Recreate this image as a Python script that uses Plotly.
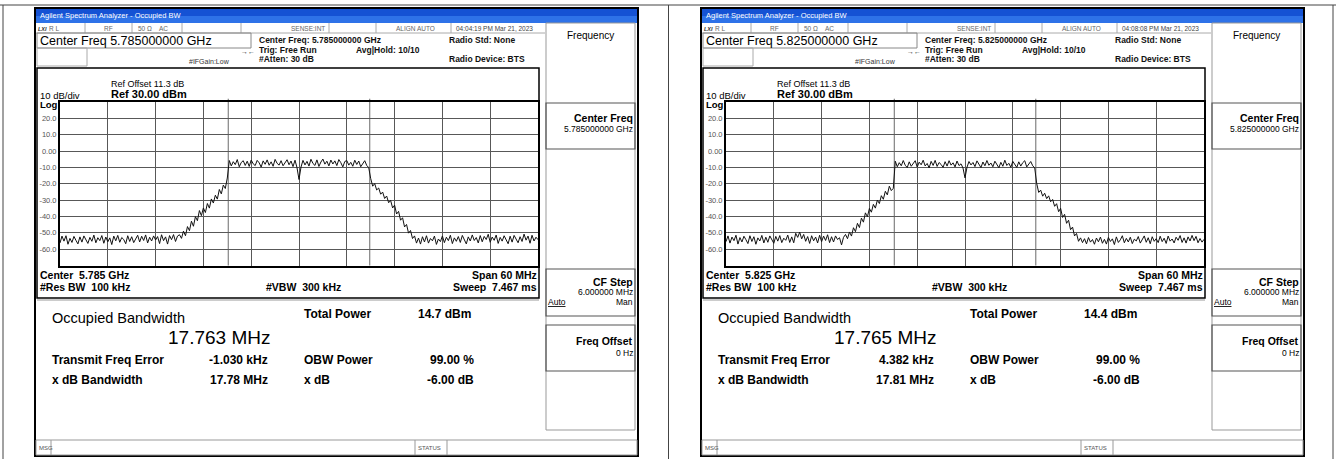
import numpy as np
import plotly.graph_objects as go

W, H = 1336, 459
FONT = "Liberation Sans, Arial, sans-serif"

# ------------------------------------------------------------------ data
span_mhz = 60.0
n_points = 241
centers_mhz = [5785.0, 5825.0]
obw_mhz = [17.763, 17.765]
freq_err_khz = [-1.030, 4.382]
ref_level_dbm = 30.0
db_per_div = 10.0
ytick_vals = [20, 10, 0, -10, -20, -30, -40, -50, -60]
ytick_text = ["20.0", "10.0", "0.00", "-10.0", "-20.0", "-30.0", "-40.0", "-50.0", "-60.0"]

# left screenshot (5.785 GHz) trace, dBm
left_floor_lo = [-56.2, -52.0, -55.1, -51.8, -57.0, -53.4, -55.9, -52.2, -54.6, -56.8,
                 -52.5, -55.7, -51.9, -54.3, -56.5, -52.8, -55.2, -51.4, -56.1, -53.0,
                 -54.8, -51.7, -56.4, -52.6, -55.5, -53.1, -57.2, -52.0, -54.9, -51.6,
                 -55.8, -52.9, -54.1, -56.7, -51.8, -55.3, -52.4, -56.0, -53.2, -51.5,
                 -55.6, -52.1, -54.7, -51.3, -56.2, -52.7, -55.0, -51.9, -54.4, -52.3,
                 -56.6, -51.2, -54.8, -52.5, -56.9, -51.7, -54.2, -51.1, -55.3, -52.0]
left_rise = [-51.2, -53.4, -49.0, -51.8, -46.2, -48.7, -42.9, -46.0, -40.1, -42.6,
             -36.4, -39.5, -34.8, -37.6, -32.1, -34.9, -29.3, -31.8, -27.0, -29.4,
             -23.5, -26.2, -20.8, -22.9, -16.5]
left_plateau = [-5.8, -9.1, -6.5, -8.3, -5.2, -9.6, -7.0, -5.9, -8.8, -6.2,
                -9.4, -5.5, -7.8, -8.9, -5.7, -7.2, -9.8, -6.0, -8.1, -5.4,
                -8.7, -6.6, -9.3, -5.1, -7.5, -8.6, -5.9, -9.0, -6.8, -5.3,
                -8.4, -6.1, -9.5, -5.6, -10.2, -17.4, -9.8, -5.7, -8.5, -6.3,
                -9.2, -5.0, -7.6, -8.8, -5.4, -9.4, -6.7, -4.9, -8.0, -6.2,
                -9.1, -5.5, -7.9, -6.0, -8.9, -5.2, -7.1, -9.7, -6.4, -5.8,
                -8.6, -6.9, -9.3, -5.6, -8.2, -6.1, -9.6, -7.3, -5.9, -8.8, -10.1]
left_fall = [-16.8, -21.5, -19.9, -23.8, -22.6, -26.4, -25.1, -29.0, -27.5, -31.6,
             -30.2, -34.8, -33.1, -38.5, -36.9, -42.3, -40.8, -46.4, -44.9, -50.2,
             -48.6, -53.5, -51.9, -56.3]
left_floor_hi = [-53.2, -56.9, -52.4, -55.6, -51.8, -56.3, -53.5, -54.9, -52.0, -57.1,
                 -53.8, -55.4, -51.9, -56.0, -52.7, -54.8, -51.5, -56.6, -53.1, -55.2,
                 -52.3, -55.9, -51.6, -54.4, -56.8, -52.5, -55.0, -51.3, -54.7, -52.9,
                 -56.2, -51.7, -55.5, -52.2, -54.1, -50.9, -55.8, -52.6, -54.6, -51.4,
                 -56.5, -52.8, -55.1, -51.8, -54.3, -56.7, -52.1, -55.7, -51.6, -53.9,
                 -56.1, -52.4, -55.3, -50.8, -54.5, -52.0, -56.4, -51.5, -55.0, -52.7,
                 -54.2]

# right screenshot (5.825 GHz) trace, dBm
right_floor_lo = [-55.4, -51.9, -56.3, -52.6, -54.8, -51.5, -56.9, -52.9, -55.6, -52.1,
                  -54.2, -56.6, -51.8, -55.3, -52.4, -57.0, -53.1, -55.0, -51.6, -56.2,
                  -52.7, -55.8, -51.9, -54.5, -56.4, -52.2, -55.1, -51.7, -56.0, -53.3,
                  -54.6, -51.4, -55.9, -52.5, -56.1, -50.3, -52.8, -49.6, -53.7, -51.0,
                  -55.2, -52.3, -56.5, -51.8, -54.9, -52.6, -56.2, -51.5, -55.4, -52.0,
                  -54.7, -51.2, -56.0, -52.4, -55.6, -51.9, -54.1, -53.0, -57.4, -52.8]
right_rise = [-51.0, -53.6, -49.5, -52.0, -46.9, -49.3, -44.2, -46.8, -41.0, -43.5,
              -37.8, -40.2, -35.1, -37.4, -32.6, -34.9, -30.0, -32.1, -27.3, -29.5,
              -24.6, -26.8, -21.5, -24.2, -22.8]
right_plateau = [-6.2, -9.6, -7.1, -9.0, -5.8, -8.7, -10.1, -6.6, -9.3, -7.4,
                 -5.9, -9.8, -6.8, -8.4, -5.6, -9.1, -7.6, -10.3, -6.3, -8.8,
                 -5.7, -9.4, -7.0, -8.2, -10.0, -6.5, -9.2, -5.9, -8.6, -7.2,
                 -9.7, -6.1, -8.9, -7.8, -10.4, -16.4, -9.9, -6.4, -8.5, -7.0,
                 -9.5, -6.0, -8.3, -10.1, -6.7, -9.0, -5.8, -8.7, -7.3, -9.6,
                 -6.2, -8.1, -10.2, -6.9, -9.3, -5.6, -8.8, -7.5, -9.9, -6.3,
                 -8.4, -10.0, -6.6, -9.2, -7.1, -5.9, -9.7, -7.8, -6.4, -9.0, -10.3]
right_fall = [-19.8, -25.3, -23.9, -27.6, -25.8, -29.1, -27.4, -31.0, -29.6, -33.8,
              -32.2, -37.1, -35.0, -40.6, -38.7, -44.2, -42.3, -48.1, -46.5, -51.9,
              -50.4, -55.2, -53.1, -56.0]
right_floor_hi = [-53.6, -56.8, -52.9, -55.7, -54.1, -57.0, -53.2, -55.5, -52.6, -56.4,
                  -54.0, -56.9, -52.8, -55.3, -53.7, -57.2, -52.5, -55.9, -54.3, -51.8,
                  -56.1, -53.4, -55.6, -52.7, -56.6, -53.9, -55.0, -52.3, -56.3, -54.2,
                  -51.9, -55.8, -53.0, -56.7, -52.4, -55.2, -53.6, -56.0, -52.1, -55.4,
                  -53.3, -56.5, -52.0, -55.1, -53.8, -56.2, -52.7, -54.6, -51.7, -55.9,
                  -53.1, -56.3, -52.5, -55.0, -51.6, -54.8, -52.2, -56.1, -53.5, -55.7,
                  -54.0]

traces_dbm = [left_floor_lo + left_rise + left_plateau + left_fall + left_floor_hi,
              right_floor_lo + right_rise + right_plateau + right_fall + right_floor_hi]

# texts that differ between the two screenshots
cf_big = ["Center Freq 5.785000000 GHz", "Center Freq 5.825000000 GHz"]
cf_small = ["Center Freq: 5.785000000 GHz", "Center Freq: 5.825000000 GHz"]
timestamps = ["04:04:19 PM Mar 21, 2023", "04:08:08 PM Mar 21, 2023"]
cf_soft = ["5.785000000 GHz", "5.825000000 GHz"]
center_lbl = ["Center&nbsp; 5.785 GHz", "Center&nbsp; 5.825 GHz"]
total_power = ["14.7 dBm", "14.4 dBm"]
obw_text = ["17.763 MHz", "17.765 MHz"]
ferr_text = ["-1.030 kHz", "4.382 kHz"]
xdb_bw_text = ["17.78 MHz", "17.81 MHz"]

# ------------------------------------------------------------------ helpers
def X(px):
    return px / W


def Y(py):
    return 1 - py / H


annotations = []
shapes = []


def txt(x, y, s, size=9, bold=False, color="#000", anchor="left", family=FONT):
    annotations.append(dict(
        x=X(x), y=Y(y), xref="paper", yref="paper",
        text=f"<b>{s}</b>" if bold else s, showarrow=False,
        xanchor=anchor, yanchor="middle", borderpad=0,
        font=dict(size=size, color=color, family=family)))


def rect(x0, y0, x1, y1, line="#000", width=1.0, fill=None, layer="above"):
    shapes.append(dict(
        type="rect", xref="paper", yref="paper",
        x0=X(x0), x1=X(x1), y0=Y(y1), y1=Y(y0),
        line=dict(color=line, width=width),
        fillcolor=fill if fill else "rgba(0,0,0,0)", layer=layer))


def seg(x0, y0, x1, y1, color="#000", width=1.0):
    shapes.append(dict(
        type="line", xref="paper", yref="paper",
        x0=X(x0), x1=X(x1), y0=Y(y0), y1=Y(y1),
        line=dict(color=color, width=width)))


# ------------------------------------------------------------------ figure
fig = go.Figure()

# outer document frame
seg(0, 5, W, 5, "#444", 1)
seg(3, 5, 3, H, "#444", 1)
seg(668.5, 5, 668.5, H, "#444", 1)
seg(1333, 5, 1333, H, "#444", 1)

PX_L, PX_R = 60, 538       # plot area (left panel)
PY_T, PY_B = 102, 265.5

for k in range(2):
    dx = 666 * k
    c = centers_mhz[k]
    xa = "xaxis" if k == 0 else "xaxis2"
    ya = "yaxis" if k == 0 else "yaxis2"
    xr = "x" if k == 0 else "x2"
    yr = "y" if k == 0 else "y2"

    freq = c + np.linspace(-span_mhz / 2, span_mhz / 2, n_points)
    fig.add_trace(go.Scatter(x=freq, y=traces_dbm[k], mode="lines",
                             line=dict(color="#111", width=1),
                             xaxis=xr, yaxis=yr, hoverinfo="skip"))

    xt = [c - span_mhz / 2 + i * span_mhz / 10 for i in range(1, 10)]
    fig.update_layout({
        xa: dict(domain=[X(PX_L + dx), X(PX_R + dx)], range=[c - span_mhz / 2, c + span_mhz / 2],
                 tickvals=xt, showticklabels=False, showgrid=True, gridcolor="#585858",
                 gridwidth=1, showline=True, linecolor="#000", linewidth=2, mirror=True,
                 zeroline=False, ticks="", anchor=yr, fixedrange=True),
        ya: dict(domain=[Y(PY_B), Y(PY_T)],
                 range=[ref_level_dbm - 10 * db_per_div, ref_level_dbm],
                 tickvals=ytick_vals, ticktext=ytick_text,
                 tickfont=dict(size=7.5, color="#555", family=FONT),
                 showgrid=True, gridcolor="#585858", gridwidth=1, showline=True,
                 linecolor="#000", linewidth=2, mirror=True, zeroline=False, ticks="",
                 anchor=xr, fixedrange=True),
    })

    # OBW edge markers
    fc = c + freq_err_khz[k] / 1000.0
    for edge in (fc - obw_mhz[k] / 2, fc + obw_mhz[k] / 2):
        shapes.append(dict(type="line", xref=xr, yref=f"{yr} domain", x0=edge, x1=edge,
                           y0=0, y1=1.02, line=dict(color="#6a6a6a", width=1), layer="below"))

    # window frame + title bar
    rect(35 + dx, 8, 638 + dx, 456, "#000", 2)
    rect(36 + dx, 9, 637 + dx, 16, "#1552d4", 0, fill="#1552d4")
    rect(36 + dx, 16, 637 + dx, 23, "#2e72e8", 0, fill="#2e72e8")
    txt(39 + dx, 15.5, "Agilent Spectrum Analyzer - Occupied BW", 7.5, color="#fff")

    # status row
    seg(36 + dx, 33, 545 + dx, 33, "#aaa", 1)
    for sx in (85, 132, 182, 241, 329, 376, 451):
        seg(sx + dx, 23, sx + dx, 33, "#aaa", 1)
    txt(37 + dx, 28.5, "<i>LXI</i>", 5.5, True, "#333")
    txt(48 + dx, 28.5, "R L", 6.5, color="#666")
    txt(103 + dx, 28.5, "RF", 6.5, color="#666")
    txt(137 + dx, 28.5, "50 Ω", 6.5, color="#666")
    txt(158 + dx, 28.5, "AC", 6.5, color="#666")
    txt(290 + dx, 28.5, "SENSE:INT", 6.5, color="#666")
    txt(395 + dx, 28.5, "ALIGN AUTO", 6.5, color="#666")
    txt(455 + dx, 28.5, timestamps[k], 6.5, color="#444")

    # header block
    rect(37 + dx, 33, 251 + dx, 48, "#888", 1)
    rect(37 + dx, 48, 87 + dx, 66, "#aaa", 1)
    txt(39 + dx, 41, cf_big[k], 12.5)
    txt(188 + dx, 61, "#IFGain:Low", 7, color="#333")
    txt(240 + dx, 51, "→←", 7, color="#333")
    txt(258 + dx, 40, cf_small[k], 8.5, True, "#111")
    txt(258 + dx, 49.5, "Trig: Free Run", 8.5, True, "#111")
    txt(355 + dx, 49.5, "Avg|Hold: 10/10", 8.5, True, "#111")
    txt(258 + dx, 59, "#Atten: 30 dB", 8.5, True, "#111")
    txt(448 + dx, 40, "Radio Std: None", 8.5, True, "#111")
    txt(448 + dx, 59, "Radio Device: BTS", 8.5, True, "#111")

    # graph box
    rect(37 + dx, 68, 539 + dx, 298, "#000", 1.5)
    seg(37 + dx, 300, 539 + dx, 300, "#bbb", 1.5)
    txt(110 + dx, 84, "Ref Offset 11.3 dB", 9)
    txt(110 + dx, 94.5, "Ref 30.00 dBm", 11, True)
    txt(39 + dx, 95, "10 dB/div", 9.5)
    txt(39 + dx, 104.5, "Log", 9.5, True)
    txt(39 + dx, 275, center_lbl[k], 10.5, True)
    txt(39 + dx, 286.5, "#Res BW&nbsp; 100 kHz", 10.5, True)
    txt(265 + dx, 286.5, "#VBW&nbsp; 300 kHz", 10.5, True)
    txt(538 + dx, 275, "Span 60 MHz", 10.5, True, anchor="right")
    txt(538 + dx, 286.5, "Sweep&nbsp; 7.467 ms", 10.5, True, anchor="right")

    # measurement results
    txt(51 + dx, 318, "Occupied Bandwidth", 14.5)
    txt(167 + dx, 337, obw_text[k], 19)
    txt(303 + dx, 314, "Total Power", 12, True)
    txt(417 + dx, 314, total_power[k], 12, True)
    txt(51 + dx, 360, "Transmit Freq Error", 12, True)
    txt(269 + dx, 360, ferr_text[k], 12, True, anchor="right")
    txt(303 + dx, 360, "OBW Power", 12, True)
    txt(475 + dx, 360, "99.00 %", 12, True, anchor="right")
    txt(51 + dx, 380, "x dB Bandwidth", 12, True)
    txt(269 + dx, 380, xdb_bw_text[k], 12, True, anchor="right")
    txt(303 + dx, 380, "x dB", 12, True)
    txt(475 + dx, 380, "-6.00 dB", 12, True, anchor="right")

    # bottom status bar
    rect(36 + dx, 440, 637 + dx, 455, "#999", 1)
    seg(51 + dx, 440, 51 + dx, 455, "#999", 1)
    seg(415 + dx, 440, 415 + dx, 455, "#999", 1)
    seg(447 + dx, 440, 447 + dx, 455, "#999", 1)
    txt(38 + dx, 447.5, "MSG", 6, color="#555")
    txt(417 + dx, 447.5, "STATUS", 6, color="#555")

    # soft keys
    rect(546 + dx, 23, 635 + dx, 430, "#999", 1)
    txt(590 + dx, 35, "Frequency", 10, anchor="center")
    rect(546 + dx, 103, 635 + dx, 149, "#555", 1.2)
    txt(634 + dx, 118, "Center Freq", 10.5, True, anchor="right")
    txt(634 + dx, 128.5, cf_soft[k], 8.5, anchor="right")
    rect(546 + dx, 269, 635 + dx, 316, "#555", 1.2)
    txt(634 + dx, 282, "CF Step", 10.5, True, anchor="right")
    txt(634 + dx, 292, "6.000000 MHz", 8.5, anchor="right")
    txt(547 + dx, 301.5, "<u>Auto</u>", 8.5)
    txt(634 + dx, 301.5, "Man", 8.5, anchor="right")
    rect(546 + dx, 325, 635 + dx, 371, "#555", 1.2)
    txt(634 + dx, 341, "Freq Offset", 10.5, True, anchor="right")
    txt(634 + dx, 353, "0 Hz", 8.5, anchor="right")

fig.update_layout(
    width=W, height=H, autosize=False,
    margin=dict(l=0, r=0, t=0, b=0, pad=0),
    paper_bgcolor="#fff", plot_bgcolor="rgba(0,0,0,0)",
    showlegend=False, annotations=annotations, shapes=shapes,
    font=dict(family=FONT),
)

fig.write_html("out.html", config={"displayModeBar": False},
               post_script="document.body.style.margin='0';")
